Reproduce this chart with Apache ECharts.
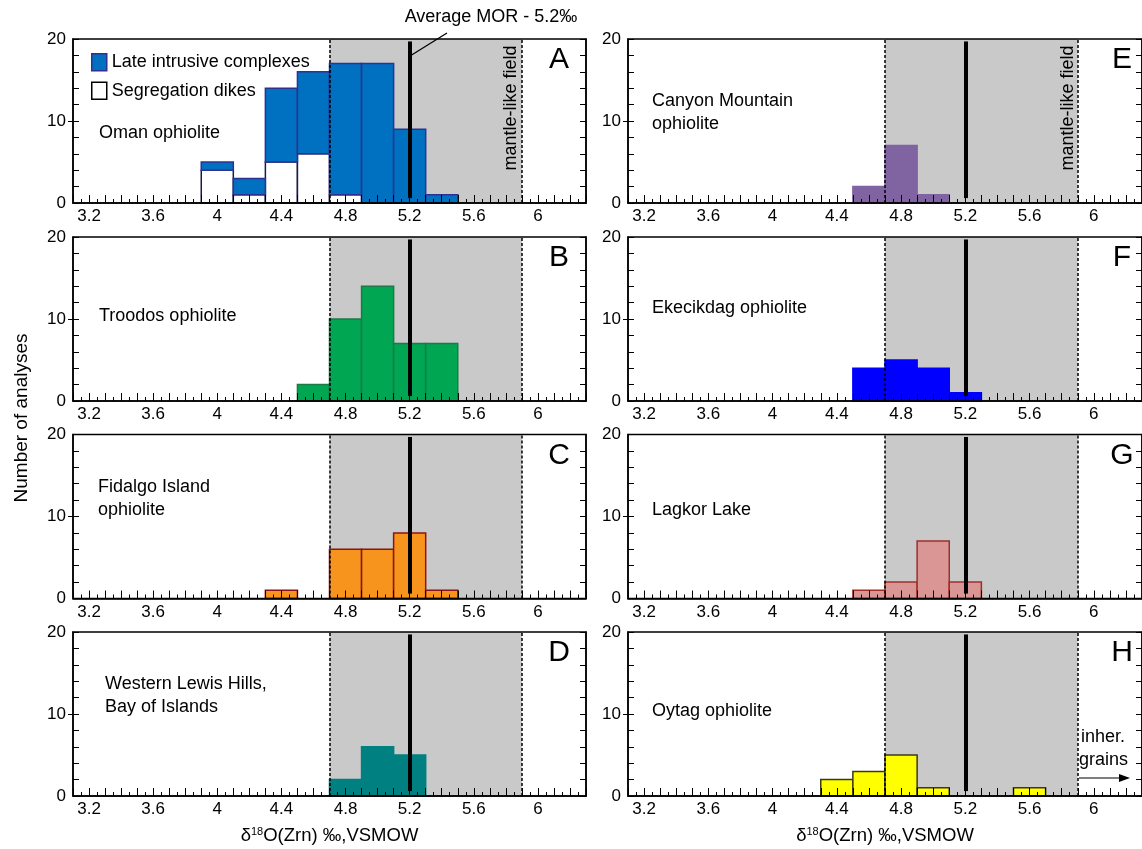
<!DOCTYPE html>
<html>
<head>
<meta charset="utf-8">
<script src="https://cdn.jsdelivr.net/npm/echarts@6/dist/echarts.min.js"></script>
<style>
html, body { margin: 0; padding: 0; background: #fff; }
#main { width: 1142px; height: 849px; }
</style>
</head>
<body>
<div id="main"></div>
<script>
// histogram bins, every bin is 0.2 permil wide
var binStarts = [3.9, 4.1, 4.3, 4.5, 4.7, 4.9, 5.1, 5.3, 5.5];
var binWidth = 0.2;

// counts per bin
var omanDikes = [4, 1, 5, 6, 1, 0, 0, 0, 0];
var omanLate  = [1, 2, 9, 10, 16, 17, 9, 1, 0];   // stacked on top of dikes
var troodos   = [0, 0, 0, 2, 10, 14, 7, 7, 0];
var fidalgo   = [0, 0, 1, 0, 6, 6, 8, 1, 0];
var lewis     = [0, 0, 0, 0, 2, 6, 5, 0, 0];
var canyon    = [0, 0, 0, 2, 7, 1, 0, 0, 0];
var ekecikdag = [0, 0, 0, 4, 5, 4, 1, 0, 0];
var lagkor    = [0, 0, 0, 1, 2, 7, 2, 0, 0];
var oytag     = [0, 0, 2, 3, 5, 1, 0, 0, 1];

var xLabels = [3.2, 3.6, 4, 4.4, 4.8, 5.2, 5.6, 6];
var yLabels = [0, 10, 20];
var morValue = 5.2;
var mantleField = [4.7, 5.9];

var FONT = '"Liberation Sans", Arial, Helvetica, sans-serif';
var xMin = 3.1, xMax = 6.3;

// tick positions
var tenths = [], halves = [];
for (var k = 31; k <= 63; k++) tenths.push(k / 10);
for (var k = 31; k <= 62; k++) halves.push((2 * k + 1) / 20);

function bins(counts, base) {
    var out = [];
    for (var i = 0; i < counts.length; i++) {
        if (!counts[i]) continue;
        var b = base ? base[i] : 0;
        out.push([binStarts[i], Math.round((binStarts[i] + binWidth) * 10) / 10, b, b + counts[i]]);
    }
    return out;
}

var panels = [
    { letter: 'A', col: 0, row: 0, mantle: true,
      bars: [
        { name: 'Segregation dikes', data: bins(omanDikes), fill: '#ffffff', stroke: '#1c1c4a' },
        { name: 'Late intrusive complexes', data: bins(omanLate, omanDikes), fill: '#0070c0', stroke: '#2e3192' }
      ],
      text: ['Oman ophiolite'], tx: 99, ty: 133 },
    { letter: 'B', col: 0, row: 1,
      bars: [{ name: 'Troodos', data: bins(troodos), fill: '#00a651', stroke: '#1b7a47' }],
      text: ['Troodos ophiolite'], tx: 99, ty: 316 },
    { letter: 'C', col: 0, row: 2,
      bars: [{ name: 'Fidalgo', data: bins(fidalgo), fill: '#f7941d', stroke: '#8b1414' }],
      text: ['Fidalgo Island', 'ophiolite'], tx: 98, ty: 487 },
    { letter: 'D', col: 0, row: 3,
      bars: [{ name: 'Lewis', data: bins(lewis), fill: '#008080', stroke: '#008080' }],
      text: ['Western Lewis Hills,', 'Bay of Islands'], tx: 105, ty: 684 },
    { letter: 'E', col: 1, row: 0, mantle: true,
      bars: [{ name: 'Canyon', data: bins(canyon), fill: '#8064a2', stroke: '#8064a2' }],
      text: ['Canyon Mountain', 'ophiolite'], tx: 652, ty: 101 },
    { letter: 'F', col: 1, row: 1,
      bars: [{ name: 'Ekecikdag', data: bins(ekecikdag), fill: '#0000ff', stroke: '#0000ff' }],
      text: ['Ekecikdag ophiolite'], tx: 652, ty: 308 },
    { letter: 'G', col: 1, row: 2,
      bars: [{ name: 'Lagkor', data: bins(lagkor), fill: '#d99694', stroke: '#a02f2c' }],
      text: ['Lagkor Lake'], tx: 652, ty: 510 },
    { letter: 'H', col: 1, row: 3,
      bars: [{ name: 'Oytag', data: bins(oytag), fill: '#ffff00', stroke: '#3a3a1a' }],
      text: ['Oytag ophiolite'], tx: 652, ty: 711 }
];

var colLeft = [73, 628], colWidth = [513, 515];
var rowTop = [39, 237, 434.5, 632], plotH = 164;

var grids = [], xAxes = [], yAxes = [], series = [], graphics = [];
var black = { color: '#000', width: 1.5 };

function renderBin(fill, stroke) {
    return function (params, api) {
        var p0 = api.coord([api.value(0), api.value(2)]);
        var p1 = api.coord([api.value(1), api.value(3)]);
        return {
            type: 'rect',
            shape: { x: p0[0], y: p1[1], width: p1[0] - p0[0], height: p0[1] - p1[1] },
            style: { fill: fill, stroke: stroke, lineWidth: 1.5 }
        };
    };
}

var xName = '{a|δ}{s|18}{a|O(Zrn) ‰,VSMOW}';

panels.forEach(function (p, i) {
    grids.push({
        left: colLeft[p.col], top: rowTop[p.row], width: colWidth[p.col], height: plotH,
        show: true, borderColor: '#000', borderWidth: 1.5, backgroundColor: 'transparent', z: 10
    });
    var bottom = p.row === 3;
    xAxes.push({
        gridIndex: i, type: 'value', min: xMin, max: xMax, position: 'bottom', z: 10,
        axisLine: { lineStyle: black },
        axisTick: { inside: true, length: 8, customValues: tenths, lineStyle: { color: '#000', width: 1 } },
        axisLabel: { customValues: xLabels, fontSize: 17, color: '#000', fontFamily: FONT, margin: 5 },
        splitLine: { show: false },
        name: bottom ? xName : '', nameLocation: 'middle', nameGap: 30,
        nameTextStyle: {
            color: '#000', fontFamily: FONT, fontSize: 18,
            rich: {
                a: { fontSize: 18.5, fontFamily: FONT, color: '#000', lineHeight: 20 },
                s: { fontSize: 11, fontFamily: FONT, color: '#000', lineHeight: 12, verticalAlign: 'top' }
            }
        }
    });
    xAxes.push({
        gridIndex: i, type: 'value', min: xMin, max: xMax, position: 'bottom', z: 10,
        axisLine: { show: false },
        axisTick: { inside: true, length: 4, customValues: halves, lineStyle: { color: '#000', width: 1 } },
        axisLabel: { show: false }, splitLine: { show: false }
    });
    yAxes.push({
        gridIndex: i, type: 'value', min: 0, max: 20, interval: 10, position: 'left',
        axisLine: { show: true, lineStyle: black },
        axisTick: { show: true, inside: false, length: 5, customValues: [10], lineStyle: { color: '#000', width: 1 } },
        axisLabel: { customValues: yLabels, fontSize: 17, color: '#000', fontFamily: FONT, margin: 7 },
        splitLine: { show: false }
    });
    yAxes.push({
        gridIndex: i, type: 'value', min: 0, max: 20, interval: 2, position: 'left',
        axisLine: { show: false },
        axisTick: { inside: true, length: 6, lineStyle: { color: '#000', width: 1 } },
        axisLabel: { show: false }, splitLine: { show: false }
    });
    yAxes.push({
        gridIndex: i, type: 'value', min: 0, max: 20, interval: 2, position: 'right',
        axisLine: { show: true, lineStyle: black },
        axisTick: { inside: true, length: 6, lineStyle: { color: '#000', width: 1 } },
        axisLabel: { show: false }, splitLine: { show: false }
    });

    var xi = 2 * i, yi = 3 * i;
    // grey mantle-like band
    series.push({
        type: 'line', xAxisIndex: xi, yAxisIndex: yi, data: [], z: 1, silent: true,
        markArea: {
            silent: true, itemStyle: { color: '#c9c9c9' },
            data: [[{ coord: [mantleField[0], 0] }, { coord: [mantleField[1], 20] }]]
        }
    });
    p.bars.forEach(function (b) {
        series.push({
            type: 'custom', name: b.name, xAxisIndex: xi, yAxisIndex: yi, z: 3,
            encode: { x: [0, 1], y: [2, 3] },
            renderItem: renderBin(b.fill, b.stroke),
            data: b.data
        });
    });
    var dash = { type: [3, 2], width: 1.5, color: '#000' };
    series.push({
        type: 'line', xAxisIndex: xi, yAxisIndex: yi, data: [], z: 5, silent: true,
        markLine: {
            silent: true, symbol: 'none', label: { show: false },
            data: [
                [{ coord: [mantleField[0], 0], lineStyle: dash }, { coord: [mantleField[0], 20] }],
                [{ coord: [mantleField[1], 0], lineStyle: dash }, { coord: [mantleField[1], 20] }],
                [{ coord: [morValue, 0.6], lineStyle: { type: 'solid', width: 4, color: '#000' } }, { coord: [morValue, 19.7] }]
            ]
        }
    });

    // panel letter
    graphics.push({
        type: 'text', z: 100, x: colLeft[p.col] + (p.col === 0 ? 486 : 494), y: rowTop[p.row] + 21,
        style: { text: p.letter, fontSize: 30, fontFamily: FONT, fill: '#000', align: 'center', verticalAlign: 'middle' }
    });
    // site name
    p.text.forEach(function (t, j) {
        graphics.push({
            type: 'text', z: 100, x: p.tx, y: p.ty + j * 23.5,
            style: { text: t, fontSize: 18, fontFamily: FONT, fill: '#000', align: 'left', verticalAlign: 'middle' }
        });
    });
    if (p.mantle) {
        graphics.push({
            type: 'text', z: 100, x: colLeft[p.col] + (p.col === 0 ? 438 : 440), y: rowTop[p.row] + 69,
            rotation: Math.PI / 2,
            style: { text: 'mantle-like field', fontSize: 18, fontFamily: FONT, fill: '#000', align: 'center', verticalAlign: 'middle' }
        });
    }
});

// annotations
graphics.push({
    type: 'text', z: 100, x: 491, y: 17,
    style: { text: 'Average MOR - 5.2‰', fontSize: 18, fontFamily: FONT, fill: '#000', align: 'center', verticalAlign: 'middle' }
});
graphics.push({
    type: 'line', z: 100, shape: { x1: 447, y1: 33, x2: 410, y2: 56 },
    style: { stroke: '#000', lineWidth: 1.3 }
});
graphics.push({
    type: 'text', z: 100, x: 22, y: 418, rotation: Math.PI / 2,
    style: { text: 'Number of analyses', fontSize: 19, fontFamily: FONT, fill: '#000', align: 'center', verticalAlign: 'middle' }
});
graphics.push({
    type: 'text', z: 100, x: 1081, y: 737,
    style: { text: 'inher.', fontSize: 18, fontFamily: FONT, fill: '#000', align: 'left', verticalAlign: 'middle' }
});
graphics.push({
    type: 'text', z: 100, x: 1079, y: 760,
    style: { text: 'grains', fontSize: 18, fontFamily: FONT, fill: '#000', align: 'left', verticalAlign: 'middle' }
});
graphics.push({
    type: 'line', z: 100, shape: { x1: 1079, y1: 778, x2: 1122, y2: 778 },
    style: { stroke: '#000', lineWidth: 1.2 }
});
graphics.push({
    type: 'polygon', z: 100, shape: { points: [[1130, 778], [1119, 774], [1119, 782]] },
    style: { fill: '#000' }
});

var chart = echarts.init(document.getElementById('main'));
chart.setOption({
    animation: false,
    backgroundColor: '#fff',
    textStyle: { fontFamily: FONT },
    legend: {
        left: 86, top: 48, orient: 'vertical', itemGap: 10, itemWidth: 15, itemHeight: 17,
        icon: 'rect', selectedMode: false,
        textStyle: { fontSize: 18, fontFamily: FONT, color: '#000' },
        data: [
            { name: 'Late intrusive complexes', itemStyle: { color: '#0070c0', borderColor: '#2e3192', borderWidth: 1.5 } },
            { name: 'Segregation dikes', itemStyle: { color: '#ffffff', borderColor: '#000', borderWidth: 1.5 } }
        ]
    },
    grid: grids,
    xAxis: xAxes,
    yAxis: yAxes,
    series: series,
    graphic: graphics
});
</script>
</body>
</html>
